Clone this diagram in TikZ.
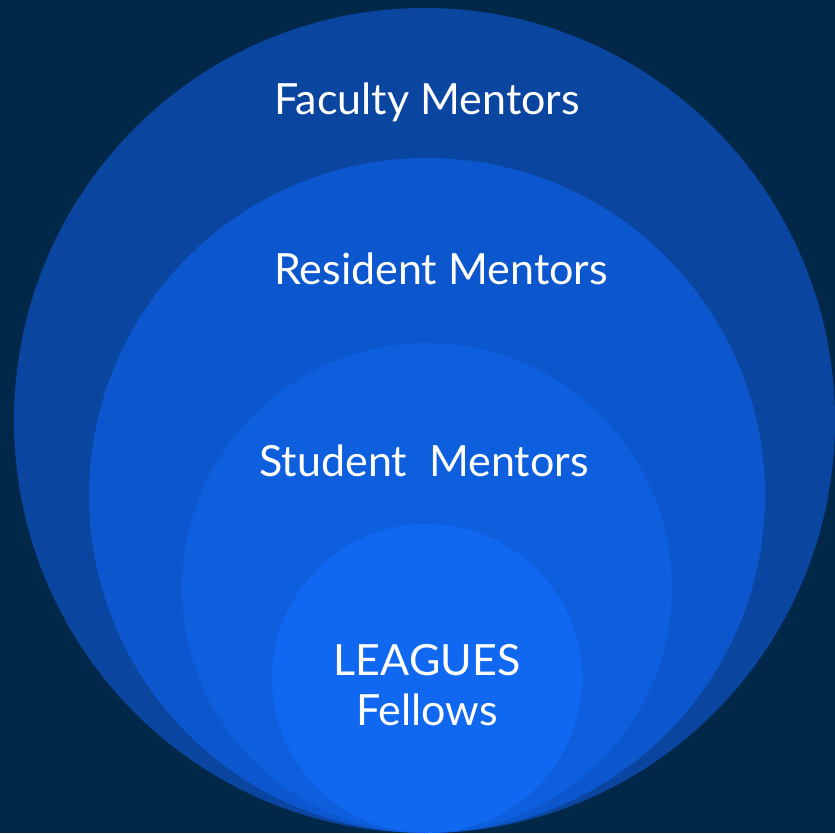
\documentclass[tikz,border=0pt]{standalone}
\usepackage{fontspec}
\setmainfont{Lato}
\definecolor{bgnavy}{HTML}{012849}
\definecolor{ringA}{HTML}{0A45A0}
\definecolor{ringB}{HTML}{0C56CE}
\definecolor{ringC}{HTML}{0D5FDD}
\definecolor{ringD}{HTML}{0F68EF}
\tikzset{lbl/.style={text=white, font=\fontsize{43}{49}\selectfont, anchor=base, inner sep=0pt}}
\begin{document}
\begin{tikzpicture}[x=1pt,y=1pt]
\fill[bgnavy] (0,0) rectangle (835,833);
\useasboundingbox (0,0) rectangle (835,833);
\fill[ringA] (424.5,412.5) ellipse [x radius=410.5, y radius=412.5];
\fill[ringB] (427,337.5) ellipse [x radius=338, y radius=337.5];
\fill[ringC] (427,245) ellipse [x radius=245, y radius=245];
\fill[ringD] (427,154.5) ellipse [x radius=155, y radius=154.5];
\node[lbl] (faculty) at (427,718) {Faculty Mentors};
\node[lbl] (resident) at (441,548) {Resident Mentors};
\node[lbl] (student) at (424,356) {Student\ \ Mentors};
\node[lbl] (leagues) at (427,158) {LEAGUES};
\node[lbl] (fellows) at (427,108) {Fellows};
\end{tikzpicture}
\end{document}
